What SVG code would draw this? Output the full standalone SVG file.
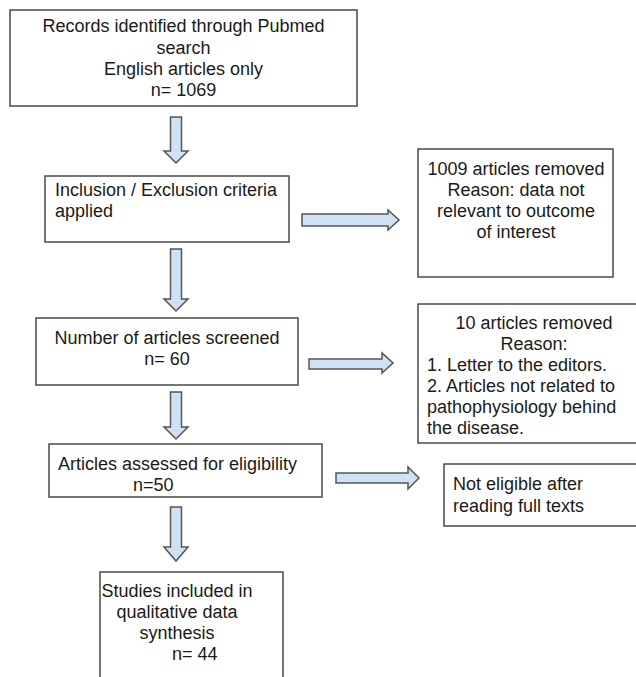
<svg xmlns="http://www.w3.org/2000/svg" width="636" height="677" viewBox="0 0 636 677">
<style>
.box{fill:#fff;stroke:#4a4a4a;stroke-width:1.5}
.arr{fill:#cfe2f3;stroke:#555;stroke-width:1.5;stroke-linejoin:miter}
text{font-family:"Liberation Sans",Arial,sans-serif;font-size:18px;fill:#1a1a1a}
.c{text-anchor:middle}
</style>
<rect width="636" height="677" fill="#fff"/>
<g id="connectors">
<path class="arr" d="M170.5,117 H181.5 V151 H188 L176,163 L164,151 H170.5 Z"/>
<path class="arr" d="M170.5,249 H181.5 V299 H188 L176,311 L164,299 H170.5 Z"/>
<path class="arr" d="M170.5,392 H181.5 V427 H188 L176,439 L164,427 H170.5 Z"/>
<path class="arr" d="M170.5,507 H181.5 V547 H188 L176,561 L164,547 H170.5 Z"/>
<path class="arr" d="M302,214 H388 V210 L399,220 L388,230 V226 H302 Z"/>
<path class="arr" d="M309,359 H382 V353 L393,363 L382,373 V369 H309 Z"/>
<path class="arr" d="M336,473 H408 V467 L419,478 L408,489 V483 H336 Z"/>
</g>
<g id="records">
<rect class="box" x="10" y="10" width="347" height="96"/>
<text class="c" x="183.5" y="32">Records identified through Pubmed</text>
<text class="c" x="183.5" y="54">search</text>
<text class="c" x="183.5" y="75">English articles only</text>
<text class="c" x="183.5" y="96">n= 1069</text>
</g>
<g id="criteria">
<rect class="box" x="45" y="176" width="244" height="66"/>
<text x="55" y="196">Inclusion / Exclusion criteria</text>
<text x="55" y="217">applied</text>
</g>
<g id="removed1009">
<rect class="box" x="418" y="149" width="195" height="128"/>
<text class="c" x="516" y="175">1009 articles removed</text>
<text class="c" x="516" y="196">Reason: data not</text>
<text class="c" x="516" y="217">relevant to outcome</text>
<text class="c" x="516" y="238">of interest</text>
</g>
<g id="screened">
<rect class="box" x="36" y="318" width="262" height="67"/>
<text class="c" x="167" y="344">Number of articles screened</text>
<text class="c" x="167" y="365">n= 60</text>
</g>
<g id="removed10">
<rect class="box" x="418" y="304" width="230" height="139"/>
<text class="c" x="534" y="329">10 articles removed</text>
<text class="c" x="534" y="350">Reason:</text>
<text x="427" y="371">1. Letter to the editors.</text>
<text x="427" y="392">2. Articles not related to</text>
<text x="427" y="413">pathophysiology behind</text>
<text x="427" y="434">the disease.</text>
</g>
<g id="assessed">
<rect class="box" x="49" y="444" width="273" height="53"/>
<text x="58" y="470">Articles assessed for eligibility</text>
<text x="133" y="491">n=50</text>
</g>
<g id="noteligible">
<rect class="box" x="444" y="464" width="200" height="62"/>
<text x="453" y="490">Not eligible after</text>
<text x="453" y="512">reading full texts</text>
</g>
<g id="included">
<rect class="box" x="100" y="572" width="183" height="120"/>
<text class="c" x="177" y="597">Studies included in</text>
<text class="c" x="177" y="618">qualitative data</text>
<text class="c" x="177" y="639">synthesis</text>
<text x="172" y="660">n= 44</text>
</g>
</svg>
